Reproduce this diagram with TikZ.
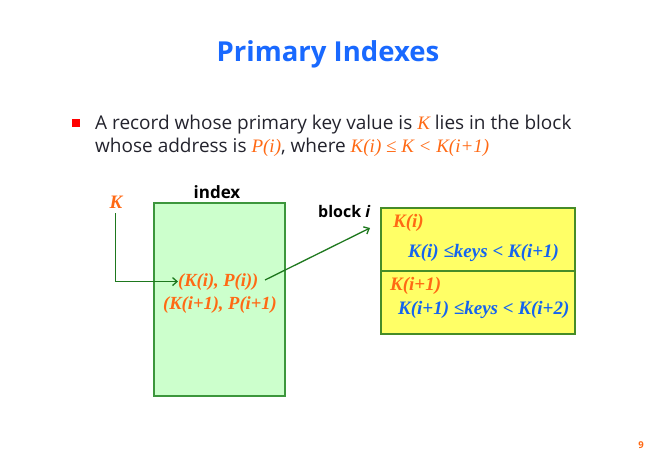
\documentclass[tikz,border=0pt]{standalone}
\usepackage{fontspec}
\setmainfont{Open Sans}
\newfontfamily\serf{Liberation Serif}
\usetikzlibrary{arrows.meta}
\definecolor{ttlblue}{RGB}{25,105,255}
\definecolor{bodygray}{RGB}{35,35,45}
\definecolor{orng}{RGB}{255,105,20}
\definecolor{idxfill}{RGB}{204,255,204}
\definecolor{idxline}{RGB}{60,150,60}
\definecolor{arrgreen}{RGB}{30,120,30}
\definecolor{yfill}{RGB}{255,255,102}
\definecolor{yline}{RGB}{70,140,40}
\definecolor{kblue}{RGB}{20,100,240}
\newcommand{\ok}[1]{{\serf\itshape\color{orng}#1}}
\tikzset{
  txt/.style={inner sep=0pt, anchor=base west},
  ser/.style={inner sep=0pt, anchor=base west, font=\fontsize{18.5}{21}\selectfont\serf\bfseries\itshape},
  serb/.style={inner sep=0pt, anchor=base west, font=\fontsize{19}{22}\selectfont\serf\bfseries\itshape},
  arr/.style={draw=arrgreen, line width=1.3pt, -{Straight Barb[length=4.5pt,width=8pt]}},
}
\begin{document}
\begin{tikzpicture}[x=1pt,y=-1pt]
\useasboundingbox (0,0) rectangle (648,450);
\node[inner sep=0pt, anchor=base, font=\fontsize{27.5}{32}\selectfont\bfseries, text=ttlblue] (title) at (328,61) {Primary Indexes};
\node[fill=red, minimum size=8pt, inner sep=0pt] (bul) at (76,123) {};
\node[txt, font=\fontsize{19}{22}\selectfont, text=bodygray] (l1) at (95,129) {A record whose primary key value is \ok{K} lies in the block};
\node[txt, font=\fontsize{19}{22}\selectfont, text=bodygray] (l2) at (95,152) {whose address is \ok{P(i)}, where \ok{K(i) ≤ K < K(i+1)}};
% index
\node[draw=idxline, line width=1.3pt, fill=idxfill, minimum width=131pt, minimum height=193pt, inner sep=0pt] (idx) at (219.5,299.5) {};
\node[inner sep=0pt, anchor=base, font=\fontsize{17}{19}\selectfont\bfseries, text=black] (idxlbl) at (217,198) {index};
\node[inner sep=0pt, anchor=base, font=\fontsize{19}{21}\selectfont\serf\bfseries\itshape, text=orng] (K) at (116,208) {K};
\node[ser, text=orng] (e1) at (178,286) {(K(i), P(i))};
\node[ser, text=orng] (e2) at (163,309) {(K(i+1), P(i+1)};
\coordinate (kdown) at (115.5,213);
\draw[arr] (kdown) |- (e1.west);
% block
\node[draw=yline, line width=1.3pt, fill=yfill, minimum width=194pt, minimum height=126pt, inner sep=0pt] (blk) at (478,271) {};
\draw[draw=yline, line width=1.3pt] (blk.west |- 0,271) coordinate (dl) -- (blk.east |- 0,271) coordinate (dr);
\node[txt, font=\fontsize{16}{18}\selectfont\bfseries, text=black] (blbl) at (318,217) {block \textit{i}};
\coordinate (a2s) at (265,280);
\coordinate (a2e) at (370,228);
\draw[arr] (a2s) -- (a2e);
\node[serb, text=orng] (b1) at (393,227) {K(i)};
\node[serb, text=kblue] (b2) at (408,257) {K(i) ≤keys < K(i+1)};
\node[serb, text=orng] (b3) at (390,290) {K(i+1)};
\node[serb, text=kblue] (b4) at (398,314) {K(i+1) ≤keys < K(i+2)};
\node[inner sep=0pt, anchor=base, font=\fontsize{9.5}{10}\selectfont\bfseries, text=orng] (pg) at (641,448) {9};
\end{tikzpicture}
\end{document}
